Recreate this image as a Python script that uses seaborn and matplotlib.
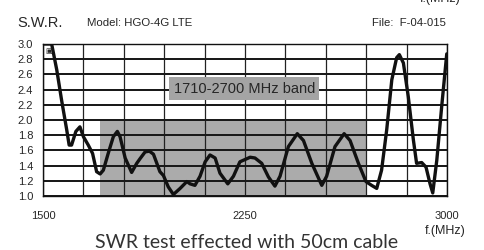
import matplotlib
matplotlib.use("Agg")
import matplotlib.pyplot as plt
import seaborn as sns
import pandas as pd

# SWR curve (MHz, SWR)
freq = [1500, 1532, 1551, 1569, 1588, 1597, 1606, 1622, 1637, 1650, 1668, 1684,
        1699, 1712, 1724, 1742, 1761, 1776, 1786, 1805, 1829, 1848, 1860, 1879,
        1895, 1910, 1934, 1947, 1965, 1984, 2009, 2034, 2046, 2064, 2083, 2102,
        2120, 2139, 2157, 2186, 2207, 2231, 2269, 2287, 2312, 2337, 2361, 2380,
        2411, 2444, 2467, 2498, 2535, 2553, 2584, 2618, 2640, 2671, 2699, 2720,
        2739, 2757, 2776, 2795, 2813, 2823, 2838, 2856, 2875, 2887, 2906, 2922,
        2937, 2947, 2962, 2980, 2999]
swr = [3.00, 3.00, 2.66, 2.26, 1.87, 1.67, 1.67, 1.85, 1.91, 1.78, 1.67, 1.56,
       1.32, 1.29, 1.34, 1.56, 1.78, 1.85, 1.78, 1.50, 1.31, 1.43, 1.49, 1.58,
       1.59, 1.55, 1.32, 1.27, 1.12, 1.02, 1.10, 1.19, 1.16, 1.14, 1.26, 1.45,
       1.54, 1.50, 1.30, 1.16, 1.26, 1.45, 1.51, 1.50, 1.43, 1.25, 1.13, 1.26,
       1.65, 1.82, 1.73, 1.43, 1.14, 1.26, 1.65, 1.82, 1.73, 1.43, 1.19, 1.14,
       1.10, 1.34, 1.87, 2.53, 2.82, 2.86, 2.75, 2.31, 1.74, 1.43, 1.44, 1.38,
       1.16, 1.04, 1.47, 2.17, 2.87]

band = [1710, 2700]
band_top = 2.0
band_label = "1710-2700 MHz band"
xticks = [1500, 2250, 3000]
xgrid = list(range(1500, 3001, 150))
yticks = [1.0, 1.2, 1.4, 1.6, 1.8, 2.0, 2.2, 2.4, 2.6, 2.8, 3.0]

df = pd.DataFrame({"f": freq, "swr": swr})

sns.set_style("white")
plt.rcParams["font.family"] = ["Liberation Sans", "DejaVu Sans"]

fig = plt.figure(figsize=(4.85, 2.5), dpi=100)
ax = fig.add_axes([0.0887, 0.216, 0.833, 0.608])

# grey band, then the grid on top of it
ax.fill_between(band, 1.0, band_top, color="#ababab", lw=0, zorder=1)
ax.vlines(xgrid, 1.0, 3.0, color="#222222", lw=0.9, zorder=1.5)
# horizontal lines fade out when antialiased at this size
ax.hlines(yticks, 1500, 3000, color="#1a1a1a", lw=1.3, zorder=1.6, antialiased=False)

sns.lineplot(data=df, x="f", y="swr", ax=ax, color="#111111", lw=2.4, zorder=3)

ax.set_xlim(1500, 3000)
ax.set_ylim(1.0, 3.0)
ax.set_xticks(xticks)
ax.set_xticklabels([str(t) for t in xticks], fontsize=8)
ax.set_yticks(yticks)
ax.set_yticklabels([f"{t:.1f}" for t in yticks], fontsize=8)
ax.tick_params(which="both", length=0)
ax.tick_params(axis="y", pad=7)
ax.tick_params(axis="x", pad=11)
ax.set_xlabel("")
ax.set_ylabel("")
for s in ax.spines.values():
    s.set_color("#111111")
    s.set_linewidth(1.0)

ax.text(1985, 2.41, band_label, fontsize=10.5, va="center", ha="left", zorder=4,
        bbox=dict(boxstyle="square,pad=0.3", fc="#a4a4a4", ec="none"))
ax.text(1520, 2.91, "\u25a3", fontsize=5, va="center", ha="center", zorder=4,
        family="DejaVu Sans")

fig.text(17 / 485, 1 - 23 / 250, "S.W.R.", fontsize=10.5, va="center", ha="left")
fig.text(87 / 485, 1 - 23 / 250, "Model: HGO-4G LTE", fontsize=8.2, va="center", ha="left")
fig.text(446 / 485, 1 - 23 / 250, "File:  F-04-015", fontsize=8.2, va="center", ha="right")
fig.text(440 / 485, 1 + 1 / 250, "f.(MHz)", fontsize=9, va="center", ha="center")
fig.text(445 / 485, 1 - 231 / 250, "f.(MHz)", fontsize=9, va="center", ha="center")
fig.text(247 / 485, 1 - 248 / 250, "SWR test effected with 50cm cable", fontsize=14,
         va="baseline", ha="center", family="Lato", color="#333333")

fig.savefig("out.png", dpi=100)
